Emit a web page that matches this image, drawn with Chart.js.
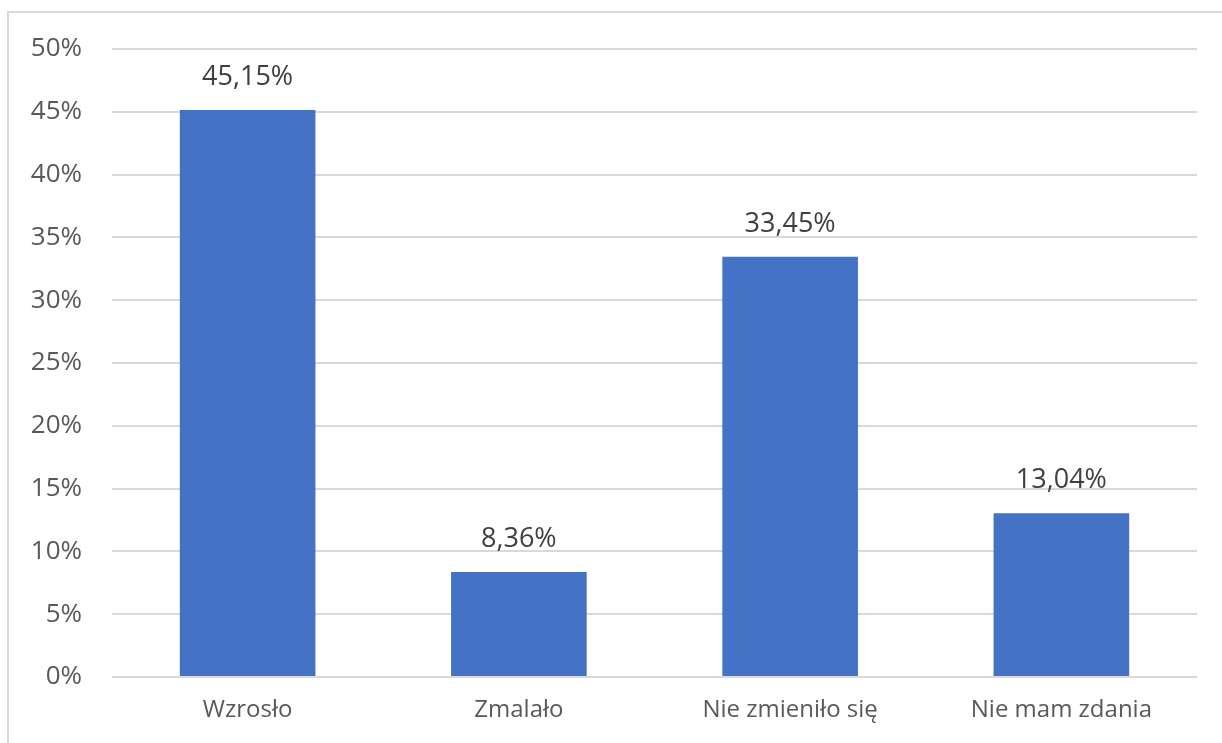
<!DOCTYPE html>
<html lang="pl">
<head>
<meta charset="utf-8">
<title>Wykres</title>
<script src="https://cdn.jsdelivr.net/npm/chart.js@4/dist/chart.umd.min.js"></script>
<style>
    html, body { margin: 0; padding: 0; background: #fff; overflow: hidden; }
    .frame {
        position: absolute;
        left: 7px;
        top: 11px;
        width: 1400px;
        height: 900px;
        border: 2px solid #d9d9d9;
    }
    #wrap { position: absolute; left: 0; top: 0; width: 1222px; height: 743px; }
</style>
</head>
<body>
<div class="frame"></div>
<div id="wrap"><canvas id="bars"></canvas></div>
<script>
// ---- Data ---------------------------------------------------------------

const CATEGORIES = ['Wzrosło', 'Zmalało', 'Nie zmieniło się', 'Nie mam zdania'];
const VALUES = [45.15, 8.36, 33.45, 13.04];

const FONT = '"Open Sans", "Noto Sans", sans-serif';

// ---- Value labels above the bars ----------------------------------------

const valueLabels = {
    id: 'valueLabels',
    afterDatasetsDraw(chart) {
        const { ctx } = chart;
        const meta = chart.getDatasetMeta(0);
        ctx.save();
        ctx.font = `27px ${FONT}`;
        ctx.fillStyle = '#404040';
        ctx.textAlign = 'center';
        ctx.textBaseline = 'middle';
        meta.data.forEach((bar, i) => {
            const text = VALUES[i].toFixed(2).replace('.', ',') + '%';
            ctx.fillText(text, bar.x, bar.y - 33);
        });
        ctx.restore();
    },
};

// ---- Chart --------------------------------------------------------------

new Chart(document.getElementById('bars'), {
    type: 'bar',
    data: {
        labels: CATEGORIES,
        datasets: [{
            data: VALUES,
            backgroundColor: '#4472c4',
            borderWidth: 0,
            categoryPercentage: 1,
            barPercentage: 0.5,
        }],
    },
    options: {
        responsive: true,
        maintainAspectRatio: false,
        animation: false,
        layout: { padding: { top: 49, right: 25, bottom: 0, left: 0 } },
        plugins: {
            legend: { display: false },
            tooltip: { enabled: false },
        },
        scales: {
            x: {
                grid: { display: false, drawTicks: false },
                border: { display: false },
                ticks: {
                    color: '#595959',
                    font: { family: FONT, size: 24 },
                    padding: 19,
                    maxRotation: 0,
                },
                afterFit: (scale) => { scale.height = 66; },
            },
            y: {
                min: 0,
                max: 50,
                ticks: {
                    stepSize: 5,
                    color: '#595959',
                    font: { family: FONT, size: 26 },
                    padding: 30,
                    callback: (v) => v + '%',
                },
                grid: { color: '#d9d9d9', lineWidth: 2, drawTicks: false },
                border: { display: false },
                afterFit: (scale) => { scale.width = 112; },
            },
        },
    },
    plugins: [valueLabels],
});
</script>
</body>
</html>
